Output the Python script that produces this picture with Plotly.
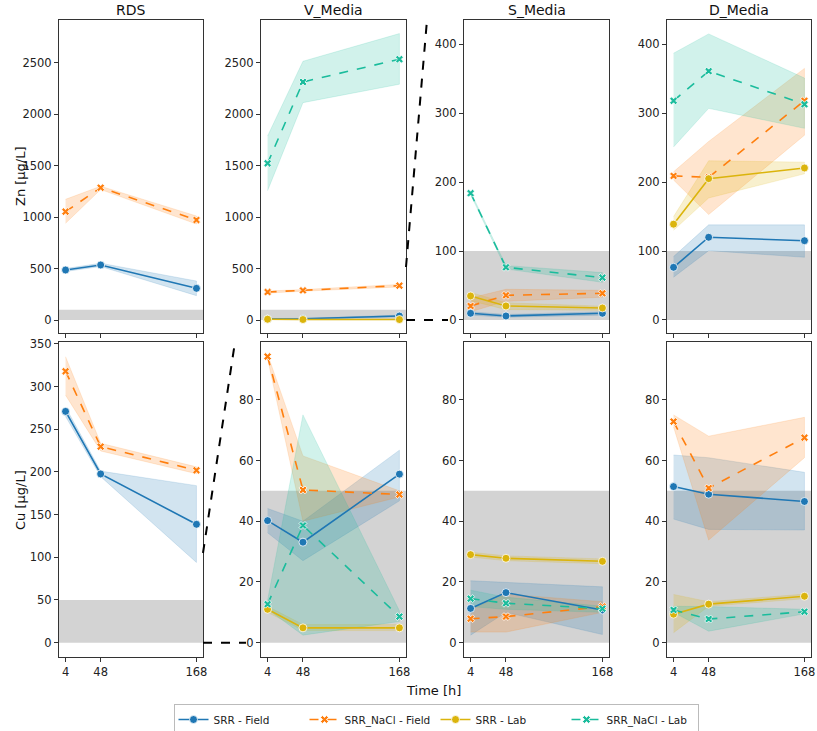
import plotly.graph_objects as go

# ---------------- data ----------------
TIMES = [4, 48, 168]
SERIES = ["SRR - Field", "SRR_NaCl - Field", "SRR - Lab", "SRR_NaCl - Lab"]
COLORS = ["#1f77b4", "#ff7f0e", "#dbb40c", "#1abc9c"]
MEDIA = ["RDS", "V_Media", "S_Media", "D_Media"]
ZN_TICKS_BIG = [0, 500, 1000, 1500, 2000, 2500]
ZN_TICKS_SMALL = [0, 100, 200, 300, 400]
CU_TICKS_BIG = [0, 50, 100, 150, 200, 250, 300, 350]
CU_TICKS_SMALL = [0, 20, 40, 60, 80]
ZN_LIMIT = 100
CU_LIMIT = 50

# Zn means / lower / upper
zn_rds_mean = {"SRR - Field": [486, 535, 308], "SRR_NaCl - Field": [1053, 1286, 972]}
zn_rds_lo = {"SRR - Field": [472, 520, 237], "SRR_NaCl - Field": [940, 1268, 933]}
zn_rds_hi = {"SRR - Field": [500, 552, 379], "SRR_NaCl - Field": [1173, 1300, 1011]}

zn_v_mean = {"SRR - Field": [10, 12, 39], "SRR_NaCl - Field": [272, 288, 334],
             "SRR - Lab": [8, 5, 5], "SRR_NaCl - Lab": [1523, 2313, 2534]}
zn_v_lo = {"SRR - Field": [6, 8, 30], "SRR_NaCl - Field": [262, 280, 322],
           "SRR - Lab": [4, 3, 3], "SRR_NaCl - Lab": [1257, 2112, 2291]}
zn_v_hi = {"SRR - Field": [14, 16, 48], "SRR_NaCl - Field": [282, 296, 346],
           "SRR - Lab": [12, 7, 7], "SRR_NaCl - Lab": [1788, 2514, 2783]}

zn_s_mean = {"SRR - Field": [9.7, 5.8, 9.7], "SRR_NaCl - Field": [20.3, 35.8, 38.7],
             "SRR - Lab": [34.8, 20.3, 17.4], "SRR_NaCl - Lab": [184, 76.4, 61.4]}
zn_s_lo = {"SRR - Field": [7, 4, 7], "SRR_NaCl - Field": [12, 27, 33],
           "SRR - Lab": [28, 15, 14], "SRR_NaCl - Lab": [182, 74, 54.7]}
zn_s_hi = {"SRR - Field": [12, 8, 12], "SRR_NaCl - Field": [32, 44.5, 43],
           "SRR - Lab": [40, 25, 20], "SRR_NaCl - Lab": [186, 79, 68.7]}

zn_d_mean = {"SRR - Field": [76.4, 120, 115], "SRR_NaCl - Field": [209, 207, 318],
             "SRR - Lab": [139, 205, 220.5], "SRR_NaCl - Lab": [318, 361, 313]}
zn_d_lo = {"SRR - Field": [62, 100.6, 91], "SRR_NaCl - Field": [203, 153, 268],
           "SRR - Lab": [130, 177, 212], "SRR_NaCl - Lab": [251, 307, 278]}
zn_d_hi = {"SRR - Field": [92, 138, 138], "SRR_NaCl - Field": [215, 259, 365],
           "SRR - Lab": [150, 231, 229], "SRR_NaCl - Lab": [387, 415, 351]}

# Cu means / lower / upper
cu_rds_mean = {"SRR - Field": [271, 197.7, 138.7], "SRR_NaCl - Field": [318, 229.7, 202]}
cu_rds_lo = {"SRR - Field": [265, 194.5, 94], "SRR_NaCl - Field": [290, 224.6, 198]}
cu_rds_hi = {"SRR - Field": [276, 201, 184], "SRR_NaCl - Field": [335, 233.6, 206]}

cu_v_mean = {"SRR - Field": [40.2, 33.1, 55.5], "SRR_NaCl - Field": [94.2, 50.3, 48.8],
             "SRR - Lab": [11, 4.9, 4.9], "SRR_NaCl - Lab": [12.7, 38.6, 8.6]}
cu_v_lo = {"SRR - Field": [36.2, 27, 46.7], "SRR_NaCl - Field": [93.5, 40, 48],
           "SRR - Lab": [10, 4, 4], "SRR_NaCl - Lab": [11, 2.5, 7]}
cu_v_hi = {"SRR - Field": [44.2, 40, 63.4], "SRR_NaCl - Field": [95, 61.5, 50],
           "SRR - Lab": [12, 6, 6], "SRR_NaCl - Lab": [14, 75, 10.5]}

cu_s_mean = {"SRR - Field": [11.3, 16.5, 10.8], "SRR_NaCl - Field": [7.9, 8.6, 11.9],
             "SRR - Lab": [29, 27.8, 26.8], "SRR_NaCl - Lab": [14.5, 13, 11.2]}
cu_s_lo = {"SRR - Field": [2.5, 10, 2.7], "SRR_NaCl - Field": [3.5, 3.5, 10],
           "SRR - Lab": [28.2, 27, 26], "SRR_NaCl - Lab": [11.9, 11, 10]}
cu_s_hi = {"SRR - Field": [20.4, 19.8, 18.4], "SRR_NaCl - Field": [11, 16, 13.5],
           "SRR - Lab": [29.8, 28.6, 27.6], "SRR_NaCl - Lab": [17.3, 15, 12]}

cu_d_mean = {"SRR - Field": [51.4, 48.9, 46.5], "SRR_NaCl - Field": [72.8, 50.9, 67.5],
             "SRR - Lab": [9.4, 12.7, 15.3], "SRR_NaCl - Lab": [10.8, 7.8, 10.2]}
cu_d_lo = {"SRR - Field": [40.7, 37.3, 37.1], "SRR_NaCl - Field": [71, 33.8, 60.9],
           "SRR - Lab": [3.3, 12, 14.5], "SRR_NaCl - Lab": [10, 3.8, 9.5]}
cu_d_hi = {"SRR - Field": [61.8, 60.9, 56.1], "SRR_NaCl - Field": [75, 68, 74.2],
           "SRR - Lab": [15.9, 13.5, 16], "SRR_NaCl - Lab": [12, 11.9, 11]}

# ---------------- layout helpers ----------------
W, H = 817, 731
L_PX, R_PX, T_PX, B_PX = 59, 811, 20, 657
PW, PH = R_PX - L_PX, B_PX - T_PX


def px_x(p):
    return (p - L_PX) / PW


def px_y(p):
    return (B_PX - p) / PH


COL_PX = [(59, 203), (261, 406), (464, 609), (667, 811)]
ROW_PX = [(20, 333), (342, 657)]

panels = [
    # (row, col, mean, lo, hi, range, ticks, limit)
    (0, 0, zn_rds_mean, zn_rds_lo, zn_rds_hi, [-126, 2915], ZN_TICKS_BIG, ZN_LIMIT),
    (0, 1, zn_v_mean, zn_v_lo, zn_v_hi, [-126, 2915], ZN_TICKS_BIG, ZN_LIMIT),
    (0, 2, zn_s_mean, zn_s_lo, zn_s_hi, [-18.9, 435.2], ZN_TICKS_SMALL, ZN_LIMIT),
    (0, 3, zn_d_mean, zn_d_lo, zn_d_hi, [-18.9, 435.2], ZN_TICKS_SMALL, ZN_LIMIT),
    (1, 0, cu_rds_mean, cu_rds_lo, cu_rds_hi, [-16.8, 352.3], CU_TICKS_BIG, CU_LIMIT),
    (1, 1, cu_v_mean, cu_v_lo, cu_v_hi, [-4.7, 99.0], CU_TICKS_SMALL, CU_LIMIT),
    (1, 2, cu_s_mean, cu_s_lo, cu_s_hi, [-4.7, 99.0], CU_TICKS_SMALL, CU_LIMIT),
    (1, 3, cu_d_mean, cu_d_lo, cu_d_hi, [-4.7, 99.0], CU_TICKS_SMALL, CU_LIMIT),
]


def rgba(hexc, a):
    h = hexc.lstrip("#")
    r, g, b = int(h[0:2], 16), int(h[2:4], 16), int(h[4:6], 16)
    return f"rgba({r},{g},{b},{a})"


FONT = "DejaVu Sans"
AX_COLOR = "#333333"
TICK_FONT = dict(size=11.5, color="#222")

fig = go.Figure()
layout = {}
shapes = []
shown = set()

for i, (row, col, mean, lo, hi, yr, yt, lim) in enumerate(panels):
    n = i + 1
    xa = "x" if n == 1 else f"x{n}"
    ya = "y" if n == 1 else f"y{n}"
    cx0, cx1 = COL_PX[col]
    ry0, ry1 = ROW_PX[row]
    layout["xaxis" if n == 1 else f"xaxis{n}"] = dict(
        domain=[px_x(cx0), px_x(cx1)], anchor=ya, range=[-4.2, 176.2],
        tickvals=TIMES, ticktext=[str(t) for t in TIMES], showticklabels=(row == 1),
        showline=True, mirror=True, linecolor=AX_COLOR, linewidth=1,
        ticks="outside", ticklen=4, tickcolor=AX_COLOR, showgrid=False, zeroline=False,
        tickfont=TICK_FONT,
    )
    layout["yaxis" if n == 1 else f"yaxis{n}"] = dict(
        domain=[px_y(ry1), px_y(ry0)], anchor=xa, range=yr, tickvals=yt,
        showline=True, mirror=True, linecolor=AX_COLOR, linewidth=1,
        ticks="outside", ticklen=4, tickcolor=AX_COLOR, showgrid=False, zeroline=False,
        tickfont=TICK_FONT,
    )
    # limit band
    shapes.append(dict(type="rect", xref=f"{xa} domain", yref=ya, x0=0, x1=1, y0=0, y1=lim,
                       fillcolor="rgba(140,140,140,0.38)", line=dict(width=0), layer="below"))
    # confidence bands
    for s, c in zip(SERIES, COLORS):
        if s not in mean:
            continue
        fig.add_trace(go.Scatter(
            x=TIMES + TIMES[::-1], y=hi[s] + lo[s][::-1], xaxis=xa, yaxis=ya,
            fill="toself", fillcolor=rgba(c, 0.2), line=dict(width=0.6, color=rgba(c, 0.25)),
            mode="lines", showlegend=False, hoverinfo="skip"))
    for s, c in zip(SERIES, COLORS):
        if s not in mean:
            continue
        nacl = "NaCl" in s
        fig.add_trace(go.Scatter(
            x=TIMES, y=mean[s], xaxis=xa, yaxis=ya, name=s, mode="lines+markers",
            line=dict(color=c, width=1.6, dash="dash" if nacl else "solid"),
            marker=dict(symbol="x" if nacl else "circle", size=8 if not nacl else 7, color=c,
                        line=dict(color="white", width=0.8)),
            showlegend=s not in shown, legendgroup=s))
        shown.add(s)

# connector dashed lines (zoom indicators)
conn = [((406, 320), (448, 320)), ((406, 267), (427, 20)),
        ((203, 642.7), (246, 642.7)), ((203, 553), (235, 342))]
for (a, b) in conn:
    shapes.append(dict(type="line", xref="paper", yref="paper",
                       x0=px_x(a[0]), y0=px_y(a[1]), x1=px_x(b[0]), y1=px_y(b[1]),
                       line=dict(color="black", width=2, dash="dash")))

annotations = []
for col, name in enumerate(MEDIA):
    cx = (COL_PX[col][0] + COL_PX[col][1]) / 2
    annotations.append(dict(text=name, x=px_x(cx), y=px_y(10), xref="paper", yref="paper",
                            showarrow=False, font=dict(size=14, color="#111"),
                            xanchor="center", yanchor="middle"))
annotations.append(dict(text="Zn [µg/L]", x=px_x(20), y=px_y(176), xref="paper", yref="paper",
                        showarrow=False, textangle=-90, font=dict(size=13, color="#111"),
                        xanchor="center", yanchor="middle"))
annotations.append(dict(text="Cu [µg/L]", x=px_x(20), y=px_y(500), xref="paper", yref="paper",
                        showarrow=False, textangle=-90, font=dict(size=13, color="#111"),
                        xanchor="center", yanchor="middle"))
annotations.append(dict(text="Time [h]", x=px_x(433), y=px_y(690), xref="paper", yref="paper",
                        showarrow=False, font=dict(size=13, color="#111"),
                        xanchor="center", yanchor="middle"))

fig.update_layout(
    width=W, height=H, autosize=False,
    margin=dict(l=L_PX, r=W - R_PX, t=T_PX, b=H - B_PX, autoexpand=False),
    paper_bgcolor="white", plot_bgcolor="white",
    font=dict(family=FONT, size=11, color="#222"),
    shapes=shapes, annotations=annotations,
    legend=dict(orientation="h", x=px_x(436), xanchor="center", y=px_y(704), yanchor="top",
                bordercolor="#bbbbbb", borderwidth=1, font=dict(size=10.5),
                itemwidth=30, entrywidth=86, entrywidthmode="pixels", bgcolor="white"),
    **layout,
)

fig.write_html("out.html", config={"displayModeBar": False},
               post_script="document.body.style.margin='0';document.body.style.overflow='hidden';")
